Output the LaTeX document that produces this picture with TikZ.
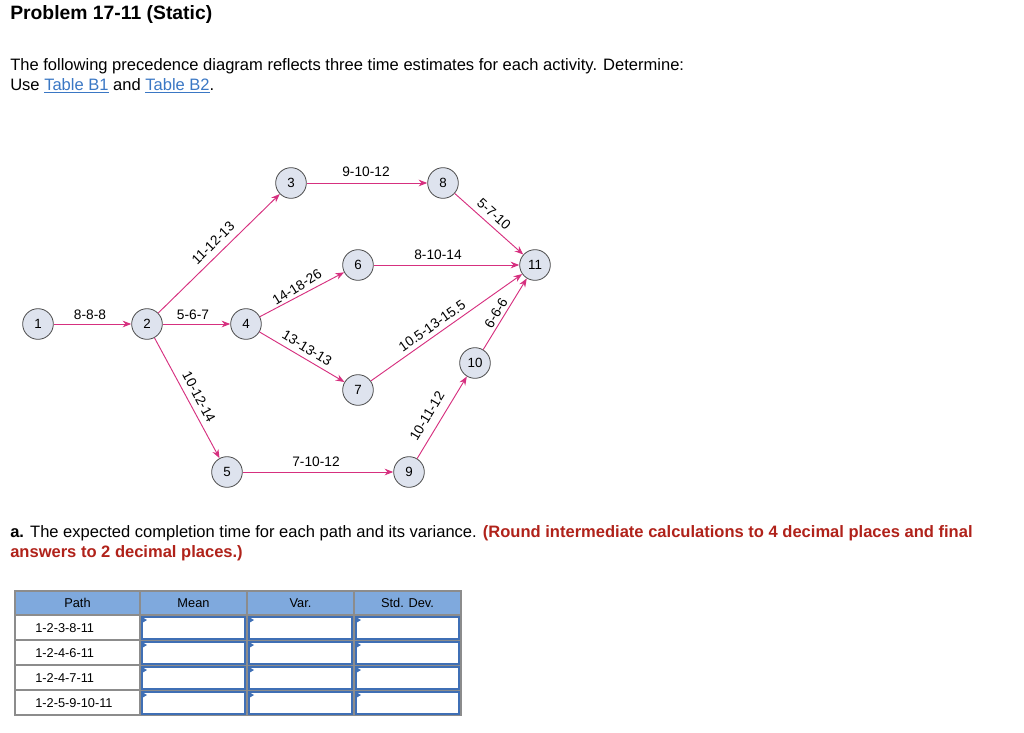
\documentclass[tikz,border=0pt]{standalone}
\usepackage{fontspec}
\setmainfont{Liberation Sans}
\usetikzlibrary{arrows.meta}
\definecolor{edge}{HTML}{D6307F}
\definecolor{nfill}{HTML}{DEE3EE}
\definecolor{lnk}{HTML}{3A77C4}
\definecolor{red}{HTML}{B0221A}
\definecolor{hdr}{HTML}{7FA9DD}
\definecolor{cellb}{HTML}{3F6FB5}
\tikzset{
  ev/.style={circle,draw=black!70,fill=nfill,minimum size=23pt,inner sep=0pt,font=\fontsize{10}{11}\selectfont,line width=0.6pt},
  act/.style={draw=edge,line width=0.7pt,-{Stealth[length=6.5pt,width=5pt]}},
  lab/.style={font=\fontsize{10.3}{11}\selectfont,inner sep=1pt},
  txt/.style={anchor=west,inner sep=0pt,font=\fontsize{12.4}{14}\selectfont},
  tc/.style={font=\fontsize{9.6}{10}\selectfont,inner sep=0pt},
}
\begin{document}
\begin{tikzpicture}[x=0.75pt,y=-0.75pt]
\useasboundingbox (0,0) rectangle (1024,732);
\node[txt,font=\bfseries\fontsize{14.5}{16}\selectfont] (title) at (10,14) {Problem 17-11 (Static)};
\node[txt] (l1) at (10,66) {The following precedence diagram reflects three time estimates for each activity. Determine:};
\node[txt] (l2) at (10,86) {Use \textcolor{lnk}{\underline{Table B1}} and \textcolor{lnk}{\underline{Table B2}}.};
% nodes
\node[ev] (n1) at (38,324) {1};
\node[ev] (n2) at (147,324) {2};
\node[ev] (n3) at (291,183) {3};
\node[ev] (n4) at (246,324) {4};
\node[ev] (n5) at (227,472) {5};
\node[ev] (n6) at (358,265) {6};
\node[ev] (n7) at (358,390) {7};
\node[ev] (n8) at (443,183) {8};
\node[ev] (n9) at (409,472) {9};
\node[ev] (n10) at (475,363) {10};
\node[ev] (n11) at (535,265) {11};
\draw[act] (n1) -- (n2);
\draw[act] (n2) -- (n4);
\draw[act] (n2) -- (n3);
\draw[act] (n2) -- (n5);
\draw[act] (n3) -- (n8);
\draw[act] (n8) -- (n11);
\draw[act] (n4) -- (n6);
\draw[act] (n4) -- (n7);
\draw[act] (n6) -- (n11);
\draw[act] (n7) -- (n11);
\draw[act] (n5) -- (n9);
\draw[act] (n9) -- (n10);
\draw[act] (n10) -- (n11);
\node[lab] (a12) at (90,315) {8-8-8};
\node[lab] (a24) at (193,315) {5-6-7};
\node[lab,rotate=45] (a23) at (213,243) {11-12-13};
\node[lab,rotate=-62] (a25) at (199,397) {10-12-14};
\node[lab] (a38) at (366,172) {9-10-12};
\node[lab,rotate=-42] (a811) at (494,214) {5-7-10};
\node[lab,rotate=32] (a46) at (297,287) {14-18-26};
\node[lab,rotate=-31] (a47) at (307,348) {13-13-13};
\node[lab] (a611) at (438,255) {8-10-14};
\node[lab,rotate=35] (a711) at (432,326) {10.5-13-15.5};
\node[lab,rotate=59] (a1011) at (496,313) {6-6-6};
\node[lab,rotate=59] (a910) at (427,416) {10-11-12};
\node[lab] (a59) at (316,462) {7-10-12};
% part a
\node[txt] (pa) at (10,533) {\textbf{a.} The expected completion time for each path and its variance. \textcolor{red}{\textbf{(Round intermediate calculations to 4 decimal places and final}}};
\node[txt] (pb) at (10,553) {\textcolor{red}{\textbf{answers to 2 decimal places.)}}};
% table
\fill[hdr] (15,591) rectangle (461,615);
\draw[black!45,line width=0.8pt] (15,591) rectangle (461,715);
\foreach \y in {615,640,665,690} \draw[black!45,line width=0.8pt] (15,\y) -- (461,\y);
\foreach \x in {140,247,354} \draw[black!45,line width=0.8pt] (\x,591) -- (\x,715);
\node[tc] (h1) at (77.5,603) {Path};
\node[tc] (h2) at (193.5,603) {Mean};
\node[tc] (h3) at (300.5,603) {Var.};
\node[tc] (h4) at (407.5,603) {Std. Dev.};
\node[tc,anchor=west] (p1) at (35,628) {1-2-3-8-11};
\node[tc,anchor=west] (p2) at (35,653) {1-2-4-6-11};
\node[tc,anchor=west] (p3) at (35,678) {1-2-4-7-11};
\node[tc,anchor=west] (p4) at (35,703) {1-2-5-9-10-11};
\foreach \x in {140,247,354}{
  \foreach \y in {615,640,665,690}{
    \draw[cellb,line width=1pt] (\x+2,\y+2) rectangle (\x+105,\y+24);
    \fill[cellb] (\x+2,\y+2) -- (\x+7,\y+5) -- (\x+2,\y+8) -- cycle;
  }
}
\end{tikzpicture}
\end{document}
